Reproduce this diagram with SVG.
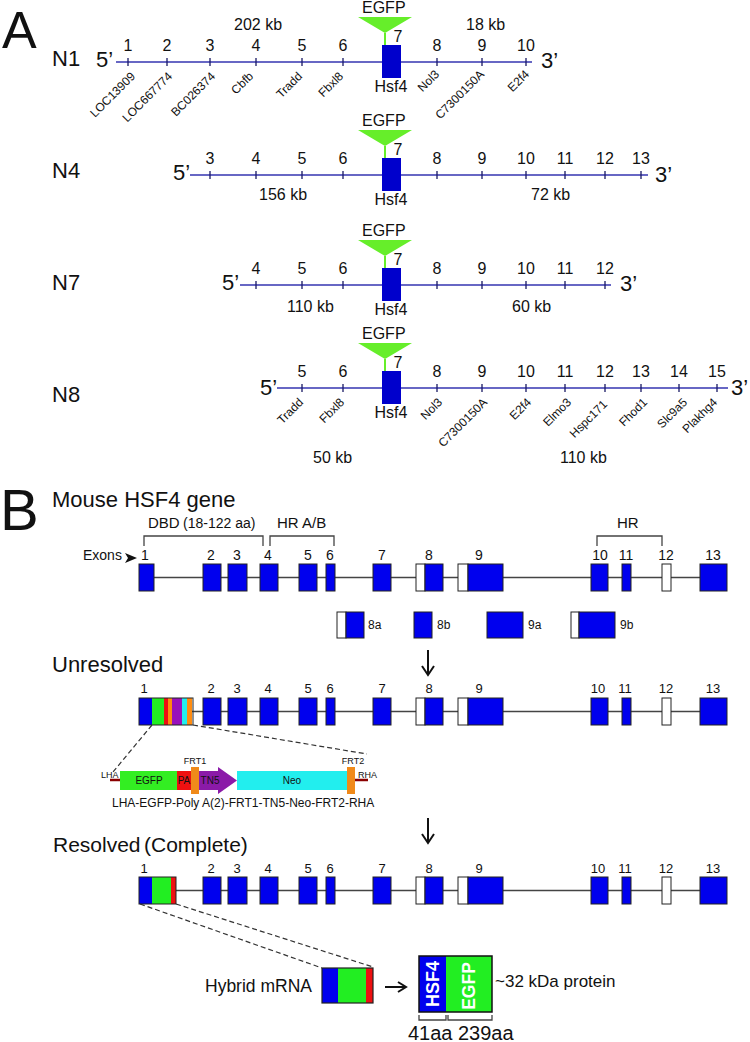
<svg xmlns="http://www.w3.org/2000/svg" width="750" height="1042" viewBox="0 0 750 1042">
<style>
text{font-family:"Liberation Sans",Arial,sans-serif;fill:#111}
.big{font-size:58px}
.row{font-size:22px}
.num{font-size:16px;text-anchor:middle}
.kb{font-size:16px}
.mid{text-anchor:middle}
.gl{font-size:12px;text-anchor:end}
.chrom{stroke:#3535b0;stroke-width:1.6;fill:none}
.tick{stroke:#1a1a66;stroke-width:1.3;fill:none}
.hsf{fill:#0000cc}
.egfp{fill:#66ee2a}
.stem{stroke:#66ee2a;stroke-width:2}
.ex{fill:#0000ee;stroke:#222;stroke-width:1}
.ut{fill:#fff;stroke:#222;stroke-width:1}
.gline{stroke:#444;stroke-width:1.5}
.brk{fill:none;stroke:#444;stroke-width:1.3}
.dash{stroke:#333;stroke-width:1.2;stroke-dasharray:5 3;fill:none}
.en{font-size:14px;text-anchor:middle}
.en2{font-size:13px;text-anchor:middle}
.lab{font-size:15px}
.small{font-size:12px}
.cas{font-size:10px;text-anchor:middle}
.tiny{font-size:9px}
.arr{stroke:#111;stroke-width:2;fill:none}
.wb{fill:#fff;font-weight:bold;text-anchor:middle}
</style>

<!-- Panel A -->
<text x="2" y="48" style="font-size:52px">A</text>

<g id="N1">
<text class="row" x="52" y="66">N1</text>
<text class="row" x="96" y="67">5’</text>
<line class="chrom" x1="116" y1="62" x2="532" y2="62"/>
<path class="tick" d="M128 58v8M167 58v8M210 58v8M256 58v8M302 58v8M343 58v8M437 58v8M482 58v8M526 58v8"/>
<text class="row" x="541" y="68">3’</text>
<text class="num" x="128" y="51">1</text><text class="num" x="167" y="51">2</text><text class="num" x="210" y="51">3</text><text class="num" x="256" y="51">4</text><text class="num" x="302" y="51">5</text><text class="num" x="343" y="51">6</text><text class="num" x="437" y="51">8</text><text class="num" x="482" y="51">9</text><text class="num" x="526" y="51">10</text>
<text class="kb" x="234" y="30">202 kb</text>
<text class="kb" x="466" y="30">18 kb</text>
<polygon class="egfp" points="358,17 412,17 385,33"/>
<line class="stem" x1="385" y1="33" x2="385" y2="45"/>
<text class="kb" x="362" y="13">EGFP</text>
<rect class="hsf" x="382" y="45" width="19" height="33"/>
<text class="num" x="398" y="42">7</text>
<text class="num" x="391" y="92">Hsf4</text>
<text class="gl" transform="translate(136,77) rotate(-45)">LOC13909</text>
<text class="gl" transform="translate(173,77) rotate(-45)">LOC667774</text>
<text class="gl" transform="translate(216,77) rotate(-45)">BC026374</text>
<text class="gl" transform="translate(254,77) rotate(-45)">Cbfb</text>
<text class="gl" transform="translate(303,77) rotate(-45)">Tradd</text>
<text class="gl" transform="translate(344,77) rotate(-45)">Fbxl8</text>
<text class="gl" transform="translate(440,75) rotate(-45)">Nol3</text>
<text class="gl" transform="translate(485,75) rotate(-45)">C7300150A</text>
<text class="gl" transform="translate(530,75) rotate(-45)">E2f4</text>
</g>

<g id="N4">
<text class="row" x="52" y="178">N4</text>
<text class="row" x="173" y="180">5’</text>
<line class="chrom" x1="190" y1="175" x2="648" y2="175"/>
<path class="tick" d="M210 171v8M256 171v8M302 171v8M343 171v8M437 171v8M482 171v8M526 171v8M565 171v8M605 171v8M641 171v8"/>
<text class="row" x="655" y="182">3’</text>
<text class="num" x="210" y="164">3</text><text class="num" x="256" y="164">4</text><text class="num" x="302" y="164">5</text><text class="num" x="343" y="164">6</text><text class="num" x="437" y="164">8</text><text class="num" x="482" y="164">9</text><text class="num" x="526" y="164">10</text><text class="num" x="565" y="164">11</text><text class="num" x="605" y="164">12</text><text class="num" x="641" y="164">13</text>
<text class="kb" x="259" y="200">156 kb</text>
<text class="kb" x="531" y="200">72 kb</text>
<polygon class="egfp" points="358,130 412,130 385,146"/>
<line class="stem" x1="385" y1="146" x2="385" y2="158"/>
<text class="kb" x="362" y="126">EGFP</text>
<rect class="hsf" x="382" y="158" width="19" height="33"/>
<text class="num" x="398" y="155">7</text>
<text class="num" x="391" y="205">Hsf4</text>
</g>

<g id="N7">
<text class="row" x="52" y="290">N7</text>
<text class="row" x="222" y="290">5’</text>
<line class="chrom" x1="240" y1="285" x2="611" y2="285"/>
<path class="tick" d="M256 281v8M302 281v8M343 281v8M437 281v8M482 281v8M526 281v8M565 281v8M605 281v8"/>
<text class="row" x="620" y="291">3’</text>
<text class="num" x="256" y="274">4</text><text class="num" x="302" y="274">5</text><text class="num" x="343" y="274">6</text><text class="num" x="437" y="274">8</text><text class="num" x="482" y="274">9</text><text class="num" x="526" y="274">10</text><text class="num" x="565" y="274">11</text><text class="num" x="605" y="274">12</text>
<text class="kb" x="287" y="312">110 kb</text>
<text class="kb" x="512" y="312">60 kb</text>
<polygon class="egfp" points="358,240 412,240 385,256"/>
<line class="stem" x1="385" y1="256" x2="385" y2="268"/>
<text class="kb" x="362" y="236">EGFP</text>
<rect class="hsf" x="382" y="268" width="19" height="33"/>
<text class="num" x="398" y="265">7</text>
<text class="num" x="391" y="315">Hsf4</text>
</g>

<g id="N8">
<text class="row" x="52" y="402">N8</text>
<text class="row" x="260" y="395">5’</text>
<line class="chrom" x1="277" y1="388" x2="728" y2="388"/>
<path class="tick" d="M302 384v8M343 384v8M437 384v8M482 384v8M526 384v8M565 384v8M605 384v8M641 384v8M679 384v8M717 384v8"/>
<text class="row" x="731" y="395">3’</text>
<text class="num" x="302" y="377">5</text><text class="num" x="343" y="377">6</text><text class="num" x="437" y="377">8</text><text class="num" x="482" y="377">9</text><text class="num" x="526" y="377">10</text><text class="num" x="565" y="377">11</text><text class="num" x="605" y="377">12</text><text class="num" x="641" y="377">13</text><text class="num" x="679" y="377">14</text><text class="num" x="717" y="377">15</text>
<text class="kb" x="313" y="463">50 kb</text>
<text class="kb" x="560" y="463">110 kb</text>
<polygon class="egfp" points="358,343 412,343 385,359"/>
<line class="stem" x1="385" y1="359" x2="385" y2="371"/>
<text class="kb" x="362" y="339">EGFP</text>
<rect class="hsf" x="382" y="371" width="19" height="33"/>
<text class="num" x="398" y="368">7</text>
<text class="num" x="391" y="418">Hsf4</text>
<text class="gl" transform="translate(304,403) rotate(-45)">Tradd</text>
<text class="gl" transform="translate(345,403) rotate(-45)">Fbxl8</text>
<text class="gl" transform="translate(443,403) rotate(-45)">Nol3</text>
<text class="gl" transform="translate(488,403) rotate(-45)">C7300150A</text>
<text class="gl" transform="translate(532,403) rotate(-45)">E2f4</text>
<text class="gl" transform="translate(572,403) rotate(-45)">Elmo3</text>
<text class="gl" transform="translate(608,405) rotate(-45)">Hspc171</text>
<text class="gl" transform="translate(648,403) rotate(-45)">Fhod1</text>
<text class="gl" transform="translate(688,403) rotate(-45)">Slc9a5</text>
<text class="gl" transform="translate(718,403) rotate(-45)">Plakhg4</text>
</g>

<!-- Panel B -->
<text class="big" x="0" y="530">B</text>

<g id="gene">
<text class="row" x="52" y="507">Mouse HSF4 gene</text>
<text class="lab" x="148" y="528">DBD</text>
<text x="183" y="528" style="font-size:14px">(18-122 aa)</text>
<text class="lab" x="277" y="528">HR A/B</text>
<text class="lab" x="617" y="528">HR</text>
<path class="brk" d="M144 546V536H263V546M270 546V536H334V546M597 546V536H662V546"/>
<text x="83" y="560" style="font-size:14px">Exons</text>
<polygon points="125,553 137,558 125,563 128,558" fill="#111"/>
<line class="gline" x1="150" y1="577.5" x2="700" y2="577.5"/>
<rect class="ex" x="139" y="564" width="15" height="27"/>
<rect class="ex" x="203" y="564" width="18" height="27"/>
<rect class="ex" x="228" y="564" width="19" height="27"/>
<rect class="ex" x="260" y="564" width="18" height="27"/>
<rect class="ex" x="299" y="564" width="18" height="27"/>
<rect class="ex" x="326" y="564" width="9" height="27"/>
<rect class="ex" x="373" y="564" width="18" height="27"/>
<rect class="ut" x="416" y="564" width="9" height="27"/><rect class="ex" x="425" y="564" width="18" height="27"/>
<rect class="ut" x="458" y="564" width="10" height="27"/><rect class="ex" x="468" y="564" width="35" height="27"/>
<rect class="ex" x="591" y="564" width="17" height="27"/>
<rect class="ex" x="622" y="564" width="9" height="27"/>
<rect class="ut" x="662" y="564" width="9" height="27"/>
<rect class="ex" x="700" y="564" width="27" height="27"/>
<text class="en" x="145" y="560">1</text><text class="en" x="211" y="560">2</text><text class="en" x="237" y="560">3</text><text class="en" x="268" y="560">4</text><text class="en" x="308" y="560">5</text><text class="en" x="330" y="560">6</text><text class="en" x="382" y="560">7</text><text class="en" x="429" y="560">8</text><text class="en" x="479" y="560">9</text><text class="en" x="600" y="560">10</text><text class="en" x="626" y="560">11</text><text class="en" x="666" y="560">12</text><text class="en" x="713" y="560">13</text>
</g>

<g id="alt-exons">
<rect class="ut" x="337" y="612" width="9" height="26"/><rect class="ex" x="346" y="612" width="18" height="26"/>
<text class="small" x="368" y="629">8a</text>
<rect class="ex" x="414" y="612" width="18" height="26"/>
<text class="small" x="437" y="629">8b</text>
<rect class="ex" x="487" y="612" width="36" height="26"/>
<text class="small" x="528" y="629">9a</text>
<rect class="ut" x="571" y="612" width="8" height="26"/><rect class="ex" x="579" y="612" width="36" height="26"/>
<text class="small" x="620" y="629">9b</text>
</g>

<g id="unresolved">
<text class="row" x="52" y="672">Unresolved</text>
<line class="gline" x1="190" y1="711.5" x2="700" y2="711.5"/>
<rect x="139" y="698" width="13" height="27" fill="#0000ee"/>
<rect x="152" y="698" width="12" height="27" fill="#22ee22"/>
<rect x="164" y="698" width="4" height="27" fill="#ee1111"/>
<rect x="168" y="698" width="4" height="27" fill="#ff8c10"/>
<rect x="172" y="698" width="10" height="27" fill="#9911bb"/>
<rect x="182" y="698" width="5" height="27" fill="#22eeee"/>
<rect x="187" y="698" width="5" height="27" fill="#ff8c10"/>
<rect x="139" y="698" width="54" height="27" fill="none" stroke="#222"/>
<rect class="ex" x="203" y="698" width="18" height="27"/>
<rect class="ex" x="228" y="698" width="19" height="27"/>
<rect class="ex" x="260" y="698" width="18" height="27"/>
<rect class="ex" x="299" y="698" width="18" height="27"/>
<rect class="ex" x="326" y="698" width="9" height="27"/>
<rect class="ex" x="373" y="698" width="18" height="27"/>
<rect class="ut" x="416" y="698" width="9" height="27"/><rect class="ex" x="425" y="698" width="18" height="27"/>
<rect class="ut" x="458" y="698" width="10" height="27"/><rect class="ex" x="468" y="698" width="35" height="27"/>
<rect class="ex" x="591" y="698" width="17" height="27"/>
<rect class="ex" x="622" y="698" width="9" height="27"/>
<rect class="ut" x="662" y="698" width="9" height="27"/>
<rect class="ex" x="700" y="698" width="27" height="27"/>
<text class="en2" x="144" y="693">1</text><text class="en2" x="211" y="693">2</text><text class="en2" x="237" y="693">3</text><text class="en2" x="268" y="693">4</text><text class="en2" x="308" y="693">5</text><text class="en2" x="330" y="693">6</text><text class="en2" x="382" y="693">7</text><text class="en2" x="429" y="693">8</text><text class="en2" x="479" y="693">9</text><text class="en2" x="598" y="693">10</text><text class="en2" x="625" y="693">11</text><text class="en2" x="666" y="693">12</text><text class="en2" x="713" y="693">13</text>
</g>

<g id="cassette">
<line x1="110" y1="780" x2="120" y2="780" stroke="#8b0000" stroke-width="2.5"/>
<line x1="355" y1="780" x2="368" y2="780" stroke="#8b0000" stroke-width="2.5"/>
<rect x="120" y="771" width="57" height="19" fill="#33ee22"/>
<rect x="177" y="771" width="14" height="19" fill="#ee1111"/>
<polygon points="199,771 218,771 218,767 237,780.5 218,794 218,790 199,790" fill="#8b1aa8"/>
<rect x="237" y="771" width="110" height="19" fill="#22eeee"/>
<rect x="191" y="767" width="8" height="27" fill="#f08a1a"/>
<rect x="347" y="767" width="8" height="27" fill="#f08a1a"/>
<text class="cas" x="149" y="784">EGFP</text>
<text class="cas" x="184" y="784">PA</text>
<text class="cas" x="210" y="784">TN5</text>
<text class="cas" x="292" y="784">Neo</text>
<text class="tiny" x="195" y="764" text-anchor="middle">FRT1</text>
<text class="tiny" x="353" y="764" text-anchor="middle">FRT2</text>
<text class="tiny" x="101" y="778">LHA</text>
<text class="tiny" x="358" y="778">RHA</text>
<text class="small" x="112" y="807">LHA-EGFP-Poly A(2)-FRT1-TN5-Neo-FRT2-RHA</text>
</g>

<g id="resolved">
<text class="row" x="53" y="852" style="font-size:21px">Resolved</text>
<text class="row" x="144" y="852" style="font-size:21px">(Complete)</text>
<line class="gline" x1="170" y1="890.5" x2="700" y2="890.5"/>
<rect x="139" y="877" width="13" height="27" fill="#0000ee"/>
<rect x="152" y="877" width="19" height="27" fill="#22ee22"/>
<rect x="171" y="877" width="5" height="27" fill="#ee1111"/>
<rect x="139" y="877" width="37" height="27" fill="none" stroke="#222"/>
<rect class="ex" x="203" y="877" width="18" height="27"/>
<rect class="ex" x="228" y="877" width="19" height="27"/>
<rect class="ex" x="260" y="877" width="18" height="27"/>
<rect class="ex" x="299" y="877" width="18" height="27"/>
<rect class="ex" x="326" y="877" width="9" height="27"/>
<rect class="ex" x="373" y="877" width="18" height="27"/>
<rect class="ut" x="416" y="877" width="9" height="27"/><rect class="ex" x="425" y="877" width="18" height="27"/>
<rect class="ut" x="458" y="877" width="10" height="27"/><rect class="ex" x="468" y="877" width="35" height="27"/>
<rect class="ex" x="591" y="877" width="17" height="27"/>
<rect class="ex" x="622" y="877" width="9" height="27"/>
<rect class="ut" x="662" y="877" width="9" height="27"/>
<rect class="ex" x="700" y="877" width="27" height="27"/>
<text class="en2" x="144" y="873">1</text><text class="en2" x="211" y="873">2</text><text class="en2" x="237" y="873">3</text><text class="en2" x="268" y="873">4</text><text class="en2" x="308" y="873">5</text><text class="en2" x="330" y="873">6</text><text class="en2" x="382" y="873">7</text><text class="en2" x="429" y="873">8</text><text class="en2" x="479" y="873">9</text><text class="en2" x="598" y="873">10</text><text class="en2" x="625" y="873">11</text><text class="en2" x="666" y="873">12</text><text class="en2" x="713" y="873">13</text>
</g>

<g id="hybrid-mrna">
<text x="205" y="992" style="font-size:17.5px">Hybrid mRNA</text>
<rect x="322" y="968" width="16" height="35" fill="#0000ee"/>
<rect x="338" y="968" width="28" height="35" fill="#22ee22"/>
<rect x="366" y="968" width="7" height="35" fill="#ee1111"/>
<rect x="322" y="968" width="51" height="35" fill="none" stroke="#222" stroke-width="1.2"/>
</g>

<g id="protein">
<rect x="419" y="956" width="27" height="56" fill="#0000ee"/>
<rect x="446" y="956" width="46" height="56" fill="#22ee22"/>
<rect x="419" y="956" width="73" height="56" fill="none" stroke="#111" stroke-width="1.5"/>
<text class="wb" transform="translate(439,984) rotate(-90)" style="font-size:18px">HSF4</text>
<text class="wb" transform="translate(475,986) rotate(-90)" style="font-size:17.5px">EGFP</text>
<text x="495" y="987" style="font-size:17px">~32 kDa protein</text>
<path class="brk" d="M419 1015v5H446v-5M448 1015v5H492v-5"/>
<text x="408" y="1040" style="font-size:20px">41aa</text>
<text x="458" y="1040" style="font-size:20px">239aa</text>
</g>

<g id="connectors">
<path class="dash" d="M152 725L113 772M193 725L367 754"/>
<path class="dash" d="M140 904L322 968M176 904L373 967"/>
<path class="arr" d="M428 650V674M422 666L428 675L434 666"/>
<path class="arr" d="M428 818V842M422 834L428 843L434 834"/>
<path class="arr" d="M385 987H405M398 982L406 987L398 992"/>
</g>
</svg>
